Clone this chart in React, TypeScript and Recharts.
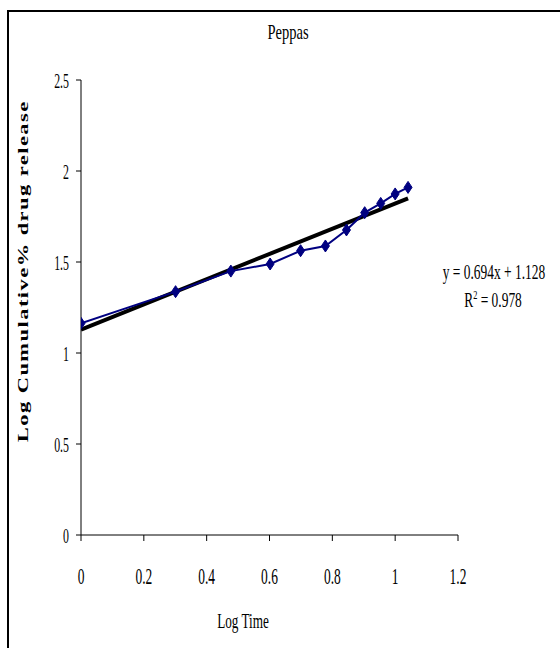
import React from "react";
import { LineChart, Line, XAxis, YAxis } from "recharts";

// log time vs log cumulative % drug release (Peppas model)
const logTime = [0, 0.301, 0.477, 0.602, 0.699, 0.778, 0.845, 0.903, 0.954, 1.0, 1.041];
const logRelease = [1.163, 1.337, 1.45, 1.489, 1.562, 1.588, 1.676, 1.771, 1.822, 1.874, 1.91];

// linear trendline y = 0.694x + 1.128, drawn over the data range
const trendX = [0, 1.041];
const trendY = [1.128, 1.85];

const xTicks = [0, 0.2, 0.4, 0.6, 0.8, 1, 1.2];
const yTicks = [0, 0.5, 1, 1.5, 2, 2.5];

const seriesData = logTime.map((x, i) => ({ x, y: logRelease[i] }));
const trendData = trendX.map((x, i) => ({ x, y: trendY[i] }));

const FONT = "'Liberation Serif', 'Times New Roman', serif";

function XTick(props: any) {
  const { x, y, payload } = props;
  return (
    <text
      transform={`translate(${x},${y + 41}) scale(0.56,1)`}
      textAnchor="middle"
      fontFamily={FONT}
      fontSize={24}
      fill="#000"
    >
      {String(payload.value)}
    </text>
  );
}

function YTick(props: any) {
  const { x, y, payload } = props;
  return (
    <text
      transform={`translate(${x - 5},${y + 7.5}) scale(0.54,1)`}
      textAnchor="end"
      fontFamily={FONT}
      fontSize={22}
      fill="#000"
    >
      {String(payload.value)}
    </text>
  );
}

function Diamond(props: any) {
  const { cx, cy, index } = props;
  if (cx == null || cy == null) return null;
  return (
    <polygon
      key={`d-${index}`}
      points={`${cx},${cy - 6} ${cx + 4},${cy} ${cx},${cy + 6} ${cx - 4},${cy}`}
      fill="#000080"
      stroke="#000080"
    />
  );
}

export default function App() {
  return (
    <div style={{ position: "absolute", left: 0, top: 0, width: 560, height: 648, background: "#fff", overflow: "hidden" }}>
      {/* frame: only left and top edges show in the crop */}
      <div
        style={{
          position: "absolute",
          left: 7,
          top: 10,
          width: 600,
          height: 700,
          borderLeft: "2px solid #000",
          borderTop: "2px solid #000",
        }}
      />
      <div style={{ position: "absolute", left: 0, top: 0 }}>
        <LineChart width={560} height={648} margin={{ top: 80, right: 102, bottom: 53, left: 0 }}>
          <XAxis
            type="number"
            dataKey="x"
            domain={[0, 1.2]}
            ticks={xTicks}
            height={60}
            tickSize={6}
            interval={0}
            allowDataOverflow
            axisLine={{ stroke: "#000" }}
            tickLine={{ stroke: "#000" }}
            tick={(p: any) => <XTick {...p} />}
          />
          <YAxis
            type="number"
            domain={[0, 2.5]}
            ticks={yTicks}
            width={81}
            tickSize={5}
            interval={0}
            allowDataOverflow
            axisLine={{ stroke: "#000" }}
            tickLine={{ stroke: "#000" }}
            tick={(p: any) => <YTick {...p} />}
          />
          <Line
            data={trendData}
            dataKey="y"
            type="linear"
            stroke="#000"
            strokeWidth={4}
            dot={false}
            activeDot={false}
            isAnimationActive={false}
          />
          <Line
            data={seriesData}
            dataKey="y"
            type="linear"
            stroke="#000080"
            strokeWidth={2}
            dot={(p: any) => <Diamond {...p} />}
            activeDot={false}
            isAnimationActive={false}
          />
        </LineChart>
      </div>
      <svg width={560} height={648} style={{ position: "absolute", left: 0, top: 0, pointerEvents: "none" }}>
        <text transform="translate(288,39) scale(0.66,1)" textAnchor="middle" fontFamily={FONT} fontSize={22} fill="#000">
          Peppas
        </text>
        <text transform="translate(243,628) scale(0.6,1)" textAnchor="middle" fontFamily={FONT} fontSize={22} fill="#000">
          Log Time
        </text>
        <g transform="translate(28,272) rotate(-90) scale(1.5,1)">
          <text
            x={0}
            y={0}
            textAnchor="middle"
            fontFamily={FONT}
            fontSize={15}
            fontWeight="bold"
            fill="#000"
            textLength={227}
            lengthAdjust="spacing"
          >
            Log Cumulative% drug release
          </text>
        </g>
        <text transform="translate(494,279) scale(0.64,1)" textAnchor="middle" fontFamily={FONT} fontSize={21} fill="#000">
          y = 0.694x + 1.128
        </text>
        <text transform="translate(493,307) scale(0.64,1)" textAnchor="middle" fontFamily={FONT} fontSize={21} fill="#000">
          R<tspan fontSize={13} dy={-8}>2</tspan>
          <tspan dy={8}> = 0.978</tspan>
        </text>
      </svg>
    </div>
  );
}
